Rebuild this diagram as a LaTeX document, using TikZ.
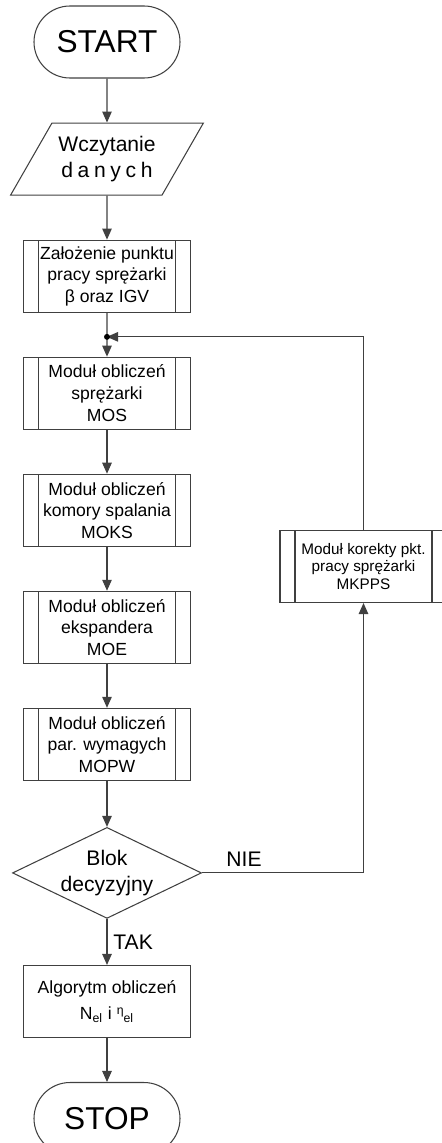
\documentclass[tikz,border=0pt]{standalone}
\usepackage{fontspec}
\setmainfont{Liberation Sans}
\usetikzlibrary{positioning,calc,shapes.geometric,arrows.meta}
\tikzset{
  line/.style={draw=black!75,line width=0.6pt},
  arr/.style={line,-{Triangle[length=2.2mm,width=1.9mm]}},
  box/.style={line,rectangle,minimum width=3.34cm,minimum height=1.44cm,align=center,inner sep=1pt,font=\fontsize{10}{12.3}\selectfont},
  sub/.style={box,path picture={
    \draw[line]([xshift=0.3cm]path picture bounding box.north west)--([xshift=0.3cm]path picture bounding box.south west)
      ([xshift=-0.3cm]path picture bounding box.north east)--([xshift=-0.3cm]path picture bounding box.south east);}},
  term/.style={line,rectangle,rounded corners=0.72cm,minimum width=2.92cm,minimum height=1.44cm,font=\fontsize{18}{20}\selectfont},
  io/.style={line,trapezium,trapezium left angle=54.7,trapezium right angle=125.3,trapezium stretches=true,
    minimum width=3.86cm,minimum height=1.44cm,align=center,font=\fontsize{12}{15}\selectfont},
  decision/.style={line,diamond,aspect=2.08,minimum width=3.78cm,minimum height=1.82cm,inner sep=0pt,align=center,font=\fontsize{12}{15}\selectfont},
  lbl/.style={font=\fontsize{12}{14}\selectfont}
}
\begin{document}
\begin{tikzpicture}[node distance=0.88cm]
\pgfmathsetmacro{\kgap}{0.92}
\useasboundingbox (0,0) rectangle (8.82,-22.86);
% glowna kolumna
\node[term] (start) at (2.14,-0.84) {START};
\node[io,below=of start] (dane) {Wczytanie\\{\addfontfeature{LetterSpace=22}danych}};
\node[sub,below=of dane] (zal) {Założenie punktu\\pracy sprężarki\\β oraz IGV};
\node[sub,below=of zal] (mos) {Moduł obliczeń\\sprężarki\\MOS};
\node[sub,below=of mos] (moks) {Moduł obliczeń\\komory spalania\\MOKS};
\node[sub,below=of moks] (moe) {Moduł obliczeń\\ekspandera\\MOE};
\node[sub,below=of moe] (mopw) {Moduł obliczeń\\par. wymagych\\MOPW};
\node[decision,below=\kgap cm of mopw] (blok) {Blok\\decyzyjny};
\node[box,below=\kgap cm of blok,font=\fontsize{10}{15}\selectfont] (alg) {Algorytm obliczeń\\N\textsubscript{el} i \raisebox{0.6ex}{\scriptsize η}\textsubscript{el}};
\node[term,below=of alg] (stop) {STOP};
% petla korekty
\node[sub,font=\fontsize{8.7}{10}\selectfont] (mkpps) at (7.27,-11.33) {Moduł korekty pkt.\\pracy sprężarki\\MKPPS};
\coordinate (j) at ($(zal.south)!0.55!(mos.north)$);
\foreach \a/\b in {start/dane,dane/zal,mos/moks,moks/moe,moe/mopw,mopw/blok,alg/stop}{\draw[arr](\a)--(\b);}
\draw[line](zal)--(j);
\draw[arr](j)--(mos);
\draw[arr](mkpps.north)|-(j);
\fill[black](j) circle (0.06);
\draw[arr](blok.east)-|(mkpps.south)node[pos=0.13,above,lbl]{NIE};
\draw[arr](blok)--(alg)node[midway,right,lbl]{TAK};
\end{tikzpicture}
\end{document}
